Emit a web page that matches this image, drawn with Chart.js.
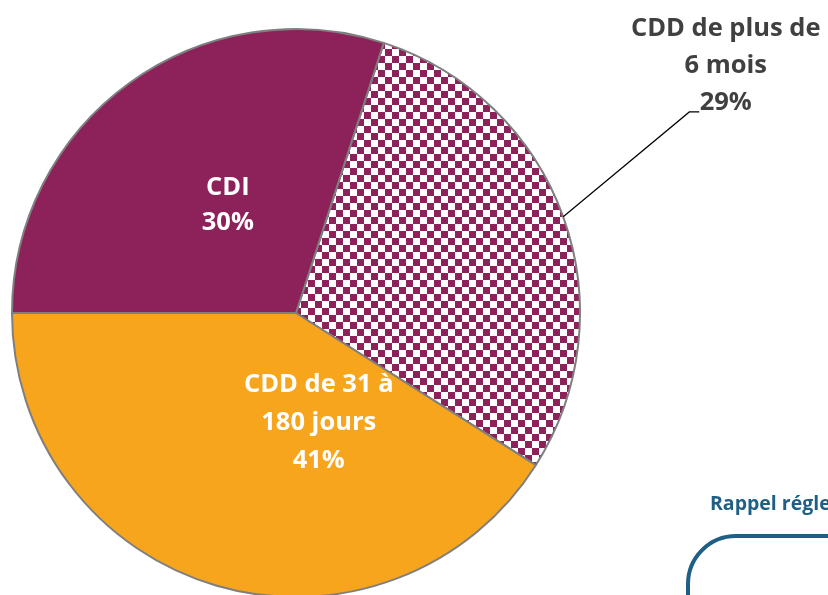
<!DOCTYPE html>
<html>
<head>
<meta charset="utf-8">
<script src="https://cdn.jsdelivr.net/npm/chart.js@4/dist/chart.umd.min.js"></script>
<style>
  html, body { margin: 0; padding: 0; background: #fff; overflow: hidden; }
  #wrap { position: relative; width: 828px; height: 630px; }
</style>
</head>
<body>
<div id="wrap"><canvas id="pieChart" width="828" height="630"></canvas></div>
<script>
// Data
const categories = ["CDD de plus de 6 mois", "CDD de 31 à 180 jours", "CDI"];
const shares = [29, 41, 30];
const labelLines = [
  ["CDD de plus de", "6 mois", "29%"],
  ["CDD de 31 à", "180 jours", "41%"],
  ["CDI", "30%"],
];

const PURPLE = "#8c2259";
const ORANGE = "#f7a51d";

/* checkerboard pattern for the CDD > 6 mois slice */
const makeChecker = (color, cell) => {
  const c = document.createElement("canvas");
  c.width = cell * 2;
  c.height = cell * 2;
  const g = c.getContext("2d");
  g.fillStyle = "#fff";
  g.fillRect(0, 0, c.width, c.height);
  g.fillStyle = color;
  g.fillRect(0, 0, cell, cell);
  g.fillRect(cell, cell, cell, cell);
  return g.createPattern(c, "repeat");
};

const FONT = "bold 25.5px 'Open Sans', Lato, sans-serif";

/* labels + leader line + cropped note box */
const labelPlugin = {
  id: "pieLabels",
  afterDraw(chart) {
    const ctx = chart.ctx;
    const arcs = chart.getDatasetMeta(0).data;
    ctx.save();
    ctx.font = FONT;
    ctx.textAlign = "center";
    ctx.textBaseline = "middle";

    // inside labels, placed relative to the pie centre / radius
    const inside = { 1: [0.08, 0.385, 38], 2: [-0.24, -0.38, 35] };
    Object.keys(inside).forEach((i) => {
      const a = arcs[i];
      const [fx, fy, lh] = inside[i];
      const lines = labelLines[i];
      const cx = a.x + fx * a.outerRadius;
      const cy = a.y + fy * a.outerRadius;
      ctx.fillStyle = "#fff";
      lines.forEach((t, k) => {
        ctx.fillText(t, cx, cy + (k - (lines.length - 1) / 2) * lh);
      });
    });

    // outside label for slice 0 with leader line
    const a0 = arcs[0];
    const r = a0.outerRadius;
    const mid = (a0.startAngle + a0.endAngle) / 2;
    const ex = a0.x + Math.cos(mid) * r;
    const ey = a0.y + Math.sin(mid) * r;
    ctx.strokeStyle = "#000";
    ctx.lineWidth = 1.2;
    ctx.beginPath();
    ctx.moveTo(ex, ey);
    ctx.lineTo(a0.x + 1.385 * r, a0.y - 0.708 * r);
    ctx.lineTo(a0.x + 1.42 * r, a0.y - 0.708 * r);
    ctx.stroke();

    ctx.fillStyle = "#404040";
    const ox = a0.x + 1.513 * r;
    const oy = a0.y - 1.0 * r;
    labelLines[0].forEach((t, k) => {
      ctx.fillText(t, ox, oy + k * 37);
    });

    // cropped note box in the corner
    ctx.fillStyle = "#1f5f86";
    ctx.textAlign = "left";
    ctx.font = "bold 19.5px 'Open Sans', Lato, sans-serif";
    ctx.fillText("Rappel réglementaire", 710, 504);
    ctx.strokeStyle = "#1f5f86";
    ctx.lineWidth = 4;
    ctx.beginPath();
    ctx.moveTo(688, 640);
    ctx.lineTo(688, 584);
    ctx.arcTo(688, 536, 736, 536, 48);
    ctx.lineTo(900, 536);
    ctx.stroke();
    ctx.restore();
  },
};

new Chart(document.getElementById("pieChart"), {
  type: "pie",
  data: {
    labels: categories,
    datasets: [
      {
        data: shares,
        backgroundColor: [makeChecker(PURPLE, 7), ORANGE, PURPLE],
        borderColor: "#7f7f7f",
        borderWidth: 2,
      },
    ],
  },
  options: {
    responsive: false,
    animation: false,
    rotation: 18,
    events: [],
    layout: { padding: { left: 11, top: 28, right: 247, bottom: 32 } },
    plugins: {
      legend: { display: false },
      tooltip: { enabled: false },
    },
  },
  plugins: [labelPlugin],
});
</script>
</body>
</html>
